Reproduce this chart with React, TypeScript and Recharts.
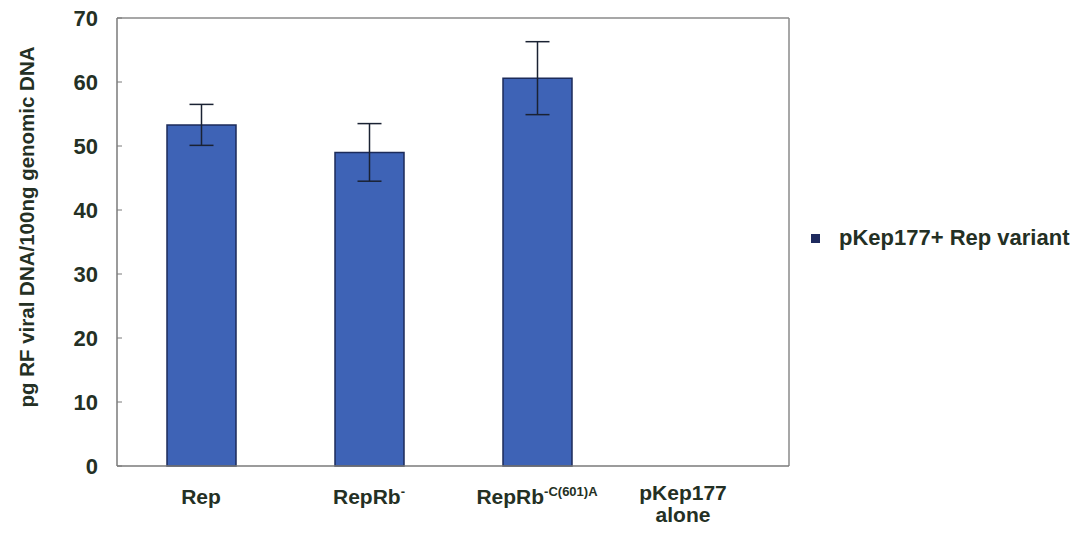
import { Bar, BarChart, CartesianGrid, ErrorBar, XAxis, YAxis } from 'recharts';

const categories = ['Rep', 'RepRb-', 'RepRb-C(601)A', 'pKep177 alone'];
const tickBase = ['Rep', 'RepRb', 'RepRb', 'pKep177'];
const tickSup = ['', '-', '-C(601)A', ''];
const tickSecond = ['', '', '', 'alone'];
const values = [53.3, 49.0, 60.6, 0];
const errors = [3.2, 4.5, 5.7, null];
const yTicks = [0, 10, 20, 30, 40, 50, 60, 70];

const SERIES = 'pKep177+ Rep variant';
const FONT = '"Liberation Sans", Arial, sans-serif';
const TEXT = '#243024';

const data = categories.map((c, i) => ({ name: c, value: values[i], err: errors[i] }));

function XTick(props: any) {
  const { x, y, index } = props;
  const twoLine = !!tickSecond[index];
  const cx = twoLine ? x - 22 : x;
  return (
    <g>
      <text x={cx} y={twoLine ? y + 26 : y + 30} textAnchor="middle" fontFamily={FONT} fontWeight="bold" fontSize={21} fill={TEXT}>
        {tickBase[index]}
        {tickSup[index] && (
          <tspan fontSize={13} dy={-8}>
            {tickSup[index]}
          </tspan>
        )}
      </text>
      {twoLine && (
        <text x={cx} y={y + 48} textAnchor="middle" fontFamily={FONT} fontWeight="bold" fontSize={21} fill={TEXT}>
          {tickSecond[index]}
        </text>
      )}
    </g>
  );
}

function YLabel(props: any) {
  const { viewBox } = props;
  const cx = viewBox.x + 26;
  const cy = viewBox.y + viewBox.height / 2 - 15;
  return (
    <text
      x={cx}
      y={cy}
      transform={`rotate(-90 ${cx} ${cy})`}
      textAnchor="middle"
      dominantBaseline="central"
      fontFamily={FONT}
      fontWeight="bold"
      fontSize={20.5}
      fill={TEXT}
    >
      pg RF viral DNA/100ng genomic DNA
    </text>
  );
}

export default function App() {
  return (
    <div style={{ position: 'absolute', left: 0, top: 0, width: 1080, height: 534, background: '#fff' }}>
      <BarChart width={1080} height={534} data={data} margin={{ top: 18, right: 291, bottom: 0, left: 0 }}>
        <CartesianGrid
          stroke="#8a8a8a"
          strokeWidth={1.5}
          horizontalCoordinatesGenerator={({ offset }: any) => [offset.top]}
          verticalCoordinatesGenerator={({ offset }: any) => [offset.left + offset.width]}
        />
        <XAxis
          dataKey="name"
          height={68}
          axisLine={{ stroke: '#7a7a7a', strokeWidth: 1.5 }}
          tickLine={false}
          tick={<XTick />}
          interval={0}
        />
        <YAxis
          width={117}
          domain={[0, 70]}
          ticks={yTicks}
          interval={0}
          axisLine={{ stroke: '#7a7a7a', strokeWidth: 1.5 }}
          tickLine={{ stroke: '#7a7a7a' }}
          tickSize={-5}
          tickMargin={24}
          tick={{ fontFamily: FONT, fontWeight: 'bold', fontSize: 22, fill: TEXT }}
          label={<YLabel />}
        />
        <Bar dataKey="value" name={SERIES} barSize={69} fill="#3e63b6" stroke="#1c2b5a" strokeWidth={1.5} isAnimationActive={false}>
          <ErrorBar dataKey="err" width={12} stroke="#1a2233" strokeWidth={1.5} />
        </Bar>
      </BarChart>
      <div
        style={{
          position: 'absolute',
          left: 811,
          top: 225,
          display: 'flex',
          alignItems: 'center',
          fontFamily: FONT,
          fontWeight: 'bold',
          fontSize: 22,
          color: TEXT,
          whiteSpace: 'nowrap',
        }}
      >
        <span style={{ display: 'inline-block', width: 9, height: 9, background: '#1e2a5e', marginRight: 19 }} />
        {SERIES}
      </div>
    </div>
  );
}
